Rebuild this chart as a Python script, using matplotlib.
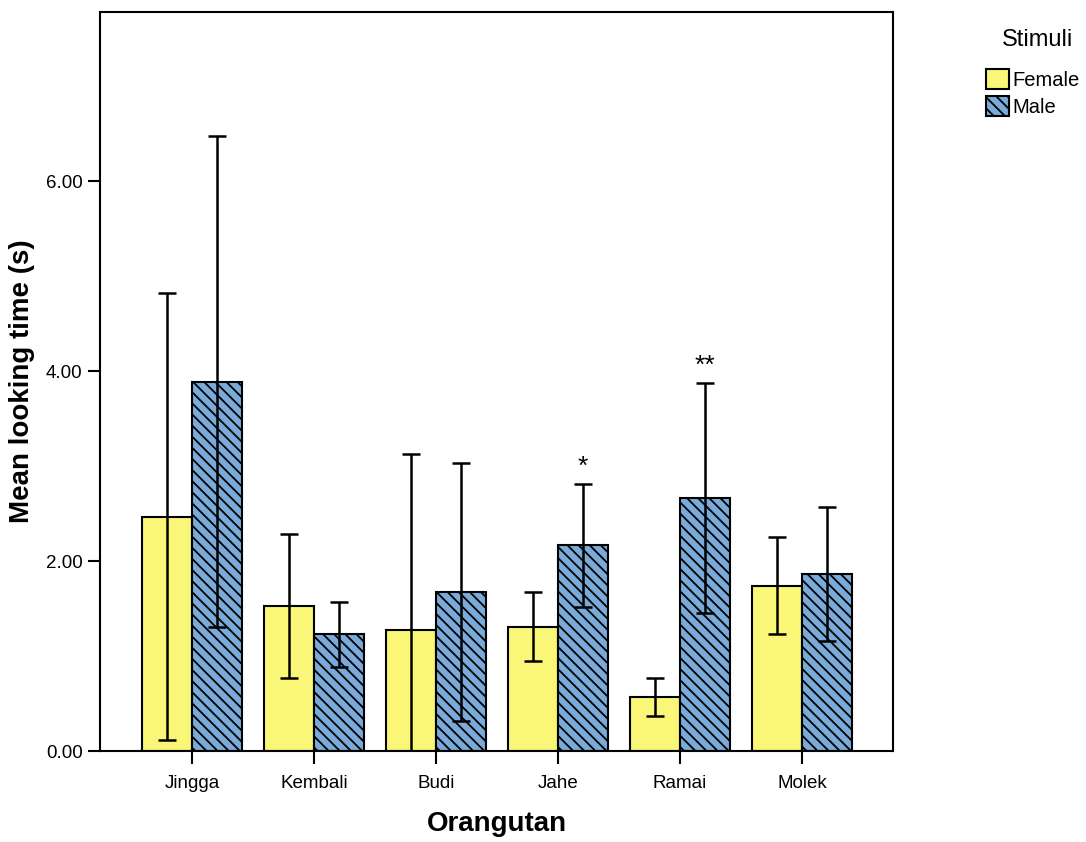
import numpy as np
import matplotlib
matplotlib.use("Agg")
import matplotlib.pyplot as plt

plt.rcParams['font.family'] = ['Liberation Sans', 'DejaVu Sans']
plt.rcParams['hatch.linewidth'] = 1.3

orangutans = ["Jingga", "Kembali", "Budi", "Jahe", "Ramai", "Molek"]

female_mean = [2.46, 1.53, 1.27, 1.31, 0.57, 1.74]
female_upper = [4.82, 2.28, 3.13, 1.67, 0.77, 2.25]
female_lower = [0.12, 0.77, 0.00, 0.95, 0.37, 1.23]

male_mean = [3.89, 1.23, 1.67, 2.17, 2.66, 1.86]
male_upper = [6.48, 1.57, 3.03, 2.81, 3.87, 2.57]
male_lower = [1.31, 0.88, 0.32, 1.52, 1.45, 1.16]

signif = ["", "", "", "*", "**", ""]

yellow = "#faf677"
blue = "#7aaad9"

fig = plt.figure(figsize=(10.86, 8.42), dpi=100)
ax = fig.add_axes([0.0921, 0.108, 0.7302, 0.8777])

x = np.arange(len(orangutans))
w = 0.41

fm = np.array(female_mean)
mm = np.array(male_mean)
f_err = [fm - np.array(female_lower), np.array(female_upper) - fm]
m_err = [mm - np.array(male_lower), np.array(male_upper) - mm]

ax.bar(x - w / 2, fm, w, color=yellow, edgecolor="black", linewidth=1.5,
       label="Female", zorder=2)
ax.bar(x + w / 2, mm, w, color=blue, edgecolor="black", linewidth=1.5,
       hatch="\\\\\\", label="Male", zorder=2)
ax.errorbar(x - w / 2, fm, yerr=f_err, fmt="none", ecolor="black",
            elinewidth=1.8, capsize=6.5, capthick=1.8, zorder=3)
ax.errorbar(x + w / 2, mm, yerr=m_err, fmt="none", ecolor="black",
            elinewidth=1.8, capsize=6.5, capthick=1.8, zorder=3)

for i, s in enumerate(signif):
    if s:
        ax.text(x[i] + w / 2, male_upper[i] + 0.06, s, ha="center",
                va="bottom", fontsize=19)

ax.set_xlim(-0.754, 5.746)
ax.set_ylim(0, 7.78)
ax.set_xticks(x)
ax.set_xticklabels(orangutans, fontsize=13.5)
ax.set_yticks([0, 2, 4, 6])
ax.set_yticklabels(["0.00", "2.00", "4.00", "6.00"], fontsize=13.5)
ax.tick_params(direction="out", length=9, width=1.5)
ax.tick_params(axis="x", pad=8)
for sp in ax.spines.values():
    sp.set_linewidth(1.5)

ax.set_xlabel("Orangutan", fontsize=20, fontweight="bold", labelpad=14)
ax.set_ylabel("Mean looking time (s)", fontsize=20, fontweight="bold",
              labelpad=8)

fig.text(0.955, 0.952, "Stimuli", ha="center", va="center", fontsize=17)
fig.legend(loc="upper left", bbox_to_anchor=(0.908, 0.918),
           fontsize=14.5, frameon=False, handlelength=1.15,
           handleheight=1.15, handletextpad=0.15, labelspacing=0.3,
           borderaxespad=0, borderpad=0)

fig.savefig("out.png", dpi=100)
